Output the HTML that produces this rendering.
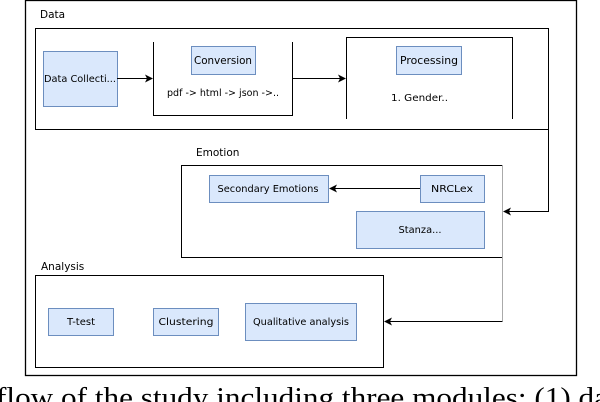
<!DOCTYPE html>
<html><head><style>html,body{margin:0;padding:0;background:#fff;}svg{display:block}</style></head>
<body>
<svg width="600" height="402" xmlns="http://www.w3.org/2000/svg" font-family="DejaVu Sans, Liberation Sans, sans-serif">
<defs>
<marker id="a" markerWidth="8" markerHeight="8" refX="7" refY="4" orient="auto" markerUnits="userSpaceOnUse"><path d="M0,0 L8,4 L0,8 L2,4z" fill="#000"/></marker>
</defs>
<rect x="25.5" y="0.5" width="551" height="375" fill="none" stroke="#000" stroke-width="1.3"/>
<g font-size="10.5" fill="#000">
<text x="40" y="18">Data</text>
<rect x="35.5" y="28.5" width="513" height="101" fill="none" stroke="#000"/>
<rect x="43.5" y="51.5" width="74" height="55" fill="#dae8fc" stroke="#6c8ebf"/>
<text x="80" y="82" text-anchor="middle" font-size="10" textLength="72" lengthAdjust="spacingAndGlyphs">Data Collecti...</text>
<path d="M153.5 42 V115.5 H292.5 V42" fill="none" stroke="#000"/>
<rect x="191.5" y="46.5" width="64" height="28" fill="#dae8fc" stroke="#6c8ebf"/>
<text x="223" y="64" text-anchor="middle" textLength="58" lengthAdjust="spacingAndGlyphs">Conversion</text>
<text x="223" y="96" text-anchor="middle" font-size="10" textLength="112" lengthAdjust="spacingAndGlyphs">pdf -&gt; html -&gt; json -&gt;..</text>
<line x1="117" y1="78.5" x2="152" y2="78.5" stroke="#000" marker-end="url(#a)"/>
<line x1="292" y1="78.5" x2="345" y2="78.5" stroke="#000" marker-end="url(#a)"/>
<path d="M346.5 119 V37.5 H512.5 V119" fill="none" stroke="#000"/>
<rect x="396.5" y="46.5" width="65" height="28" fill="#dae8fc" stroke="#6c8ebf"/>
<text x="429" y="64" text-anchor="middle" textLength="58" lengthAdjust="spacingAndGlyphs">Processing</text>
<text x="391" y="101" font-size="10" textLength="57" lengthAdjust="spacingAndGlyphs">1. Gender..</text>
<text x="196" y="156">Emotion</text>
<path d="M502 257.5 H181.5 V165.5 H502.5" fill="none" stroke="#000"/>
<line x1="502.5" y1="165" x2="502.5" y2="321" stroke="#aaa"/>
<rect x="209.5" y="175.5" width="119" height="27" fill="#dae8fc" stroke="#6c8ebf"/>
<text x="268" y="192" text-anchor="middle" font-size="10" textLength="101" lengthAdjust="spacingAndGlyphs">Secondary Emotions</text>
<rect x="420.5" y="175.5" width="64" height="27" fill="#dae8fc" stroke="#6c8ebf"/>
<text x="452" y="192" text-anchor="middle" font-size="10" textLength="42" lengthAdjust="spacingAndGlyphs">NRCLex</text>
<line x1="420" y1="188.5" x2="330" y2="188.5" stroke="#000" marker-end="url(#a)"/>
<rect x="356.5" y="211.5" width="128" height="37" fill="#dae8fc" stroke="#6c8ebf"/>
<text x="420" y="233" text-anchor="middle" font-size="10" textLength="43" lengthAdjust="spacingAndGlyphs">Stanza...</text>
<path d="M548.5 129 V211.5 H504" fill="none" stroke="#000" marker-end="url(#a)"/>
<text x="41" y="270">Analysis</text>
<rect x="35.5" y="275.5" width="348" height="92" fill="none" stroke="#000"/>
<rect x="48.5" y="308.5" width="65" height="27" fill="#dae8fc" stroke="#6c8ebf"/>
<text x="81" y="325" text-anchor="middle" font-size="10" textLength="28" lengthAdjust="spacingAndGlyphs">T-test</text>
<rect x="153.5" y="308.5" width="65" height="27" fill="#dae8fc" stroke="#6c8ebf"/>
<text x="186" y="325" text-anchor="middle" font-size="10" textLength="55" lengthAdjust="spacingAndGlyphs">Clustering</text>
<rect x="245.5" y="303.5" width="111" height="37" fill="#dae8fc" stroke="#6c8ebf"/>
<text x="301" y="325" text-anchor="middle" font-size="10" textLength="96" lengthAdjust="spacingAndGlyphs">Qualitative analysis</text>
<path d="M502.5 321.5 H385" fill="none" stroke="#000" marker-end="url(#a)"/>
</g>
<text x="-4" y="407" font-family="Liberation Serif, serif" font-size="28" textLength="612" lengthAdjust="spacingAndGlyphs">flow of the study including three modules: (1) da</text>
</svg>
</body></html>
